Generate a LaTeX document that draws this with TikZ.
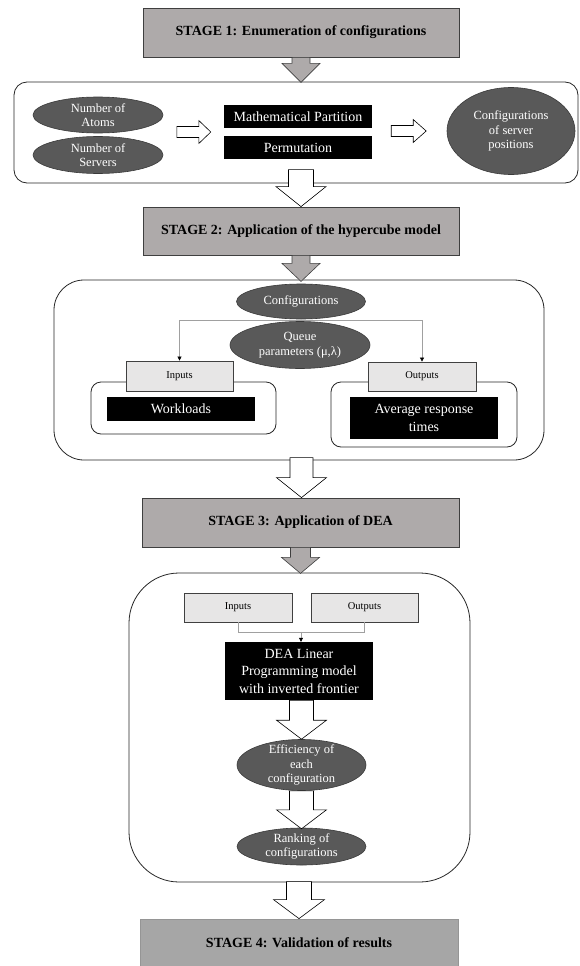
\documentclass[tikz,border=0pt]{standalone}
\usepackage{fontspec}
\setmainfont{Liberation Serif}
\usetikzlibrary{calc,shapes.geometric,arrows.meta}
\definecolor{stagefill}{HTML}{AEAAAA}
\definecolor{stageline}{HTML}{3F3F3F}
\definecolor{stagefour}{HTML}{A6A6A6}
\definecolor{ovalfill}{HTML}{595959}
\definecolor{ovalline}{HTML}{3A3A3A}
\definecolor{litefill}{HTML}{E7E6E6}
\definecolor{boxline}{HTML}{404040}
\definecolor{conngray}{HTML}{A0A0A0}
\newcommand{\blockdown}[6]{%
  \draw[#1] ($#2+(-#3,0)$) -- ($#2+(-#3,#4)$) -- ($#2+(-#5,#4)$) -- ($#2+(0,#4+#6)$) -- ($#2+(#5,#4)$) -- ($#2+(#3,#4)$) -- ($#2+(#3,0)$) -- cycle;}
\newcommand{\blockright}[6]{%
  \draw[#1] ($#2+(0,-#3)$) -- ($#2+(#4,-#3)$) -- ($#2+(#4,-#5)$) -- ($#2+(#4+#6,0)$) -- ($#2+(#4,#5)$) -- ($#2+(#4,#3)$) -- ($#2+(0,#3)$) -- cycle;}
\begin{document}
\begin{tikzpicture}[x=1pt,y=-1pt,
  stagebox/.style={draw=stageline, fill=stagefill, line width=0.8pt, inner sep=0pt, font=\fontsize{14}{16}\selectfont\bfseries},
  cont/.style={draw=black!85, line width=0.8pt, fill=white, inner sep=0pt},
  oval/.style={ellipse, draw=ovalline, fill=ovalfill, text=white, line width=0.6pt, inner xsep=0pt, inner ysep=-9pt, align=center, font=\fontsize{12.5}{14.5}\selectfont},
  blk/.style={fill=black, text=white, inner sep=0pt, align=center, font=\fontsize{14}{17.5}\selectfont},
  lite/.style={draw=boxline, fill=litefill, line width=0.8pt, inner sep=0pt, font=\fontsize{10.5}{12}\selectfont},
  hollow/.style={draw=black, fill=white, line width=0.6pt},
  grayarrow/.style={draw=stageline, fill=stagefill, line width=0.6pt},
  conn/.style={draw=conngray, line width=0.6pt},
  tip/.style={-{Triangle[length=4pt,width=4pt,color=black]}}
]
\useasboundingbox (0,0) rectangle (579,966);

% containers
\node[cont, rounded corners=13pt, minimum width=564pt, minimum height=101pt] (c1) at (296,132.5) {};
\node[cont, rounded corners=30pt, minimum width=490pt, minimum height=180pt] (c2) at (299,370) {};
\node[cont, rounded corners=50pt, minimum width=341pt, minimum height=309pt] (c3) at (299.5,727.5) {};

% stage boxes
\node[stagebox, minimum width=316pt, minimum height=49pt] (s1) at (301,32.5) {STAGE 1: Enumeration of configurations};
\node[stagebox, minimum width=316pt, minimum height=48pt] (s2) at (301,231) {STAGE 2: Application of the hypercube model};
\node[stagebox, minimum width=317pt, minimum height=49pt] (s3) at (300.5,522.5) {STAGE 3: Application of DEA};
\node[stagebox, draw=stagefour!90!black, fill=stagefour, minimum width=318pt, minimum height=48pt] (s4) at (299,943) {STAGE 4: Validation of results};

% stage 1 content
\node[oval, minimum width=130pt, minimum height=36pt] (atoms) at (98,115) {Number of\\Atoms};
\node[oval, minimum width=130pt, minimum height=37pt] (servers) at (98,155) {Number of\\Servers};
\node[blk, minimum width=148pt, minimum height=23pt] (mp) at (298,116.5) {Mathematical Partition};
\node[blk, minimum width=148pt, minimum height=23pt] (perm) at (298,147.5) {Permutation};
\node[oval, minimum width=128pt, minimum height=87pt] (confpos) at (511,131) {Configurations\\of server\\positions};
\coordinate (t1) at ($(mp.west)!0.5!(perm.west)+(-47,0)$);
\coordinate (t2) at ($(mp.east)!0.5!(perm.east)+(19,-1)$);
\blockright{hollow}{(t1)}{5.5}{22}{11.5}{12}
\blockright{hollow}{(t2)}{5.5}{22}{11.5}{13}

% stage 2 content
\node[cont, rounded corners=10pt, minimum width=185pt, minimum height=52pt] (wc) at (183.5,408) {};
\node[cont, rounded corners=10pt, minimum width=186pt, minimum height=65pt] (oc) at (424,414.5) {};
\node[lite, minimum width=107pt, minimum height=30pt] (in2) at (179.5,376) {Inputs};
\node[lite, minimum width=108pt, minimum height=29pt] (out2) at (422,376.5) {Outputs};
\node[blk, minimum width=148pt, minimum height=24pt] (work) at (181,409) {Workloads};
\node[blk, minimum width=148pt, minimum height=42pt] (avg) at (424,418) {Average response\\times};
\coordinate (j2) at (301,320);
\draw[conn, tip] (j2) -| (in2.north);
\draw[conn, tip] (j2) -| (out2.north);
\node[oval, minimum width=129pt, minimum height=35pt] (conf2) at (301,301.5) {Configurations};
\node[oval, minimum width=140pt, minimum height=47pt] (queue) at (300,345) {Queue\\parameters (μ,λ)};

% stage 3 content
\node[lite, minimum width=108pt, minimum height=29pt] (in3) at (238,607.5) {Inputs};
\node[lite, minimum width=107pt, minimum height=29pt] (out3) at (364.5,607.5) {Outputs};
\node[blk, minimum width=148pt, minimum height=58pt] (dea) at (299,671) {DEA Linear\\Programming model\\with inverted frontier};
\node[oval, minimum width=129pt, minimum height=51pt] (eff) at (301.5,765) {Efficiency of\\each\\configuration};
\node[oval, minimum width=129pt, minimum height=37pt] (rank) at (301.5,846.5) {Ranking of\\configurations};
\coordinate (j3) at ($(dea.north)+(2,-10)$);
\draw[conn] (in3.south) |- (j3) -| (out3.south);
\draw[conn, tip] (j3) -- (j3 |- dea.north);

% block arrows
\blockdown{grayarrow}{(s1.south)}{9}{6}{19}{19}
\blockdown{hollow}{($(s2.north)+(0,-37)$)}{12.5}{17}{25}{20}
\blockdown{grayarrow}{(s2.south)}{9}{8}{19}{18}
\blockdown{hollow}{($(s3.north)+(1,-40)$)}{11.5}{20}{25}{20}
\blockdown{grayarrow}{(s3.south)}{10}{10}{19}{16}
\blockdown{hollow}{($(eff.north)+(0,-39)$)}{12}{20}{25}{19}
\blockdown{hollow}{(eff.south)}{12}{19}{25}{19}
\blockdown{hollow}{($(s4.north)+(0,-37)$)}{12.5}{18}{25.5}{19}
\end{tikzpicture}
\end{document}
